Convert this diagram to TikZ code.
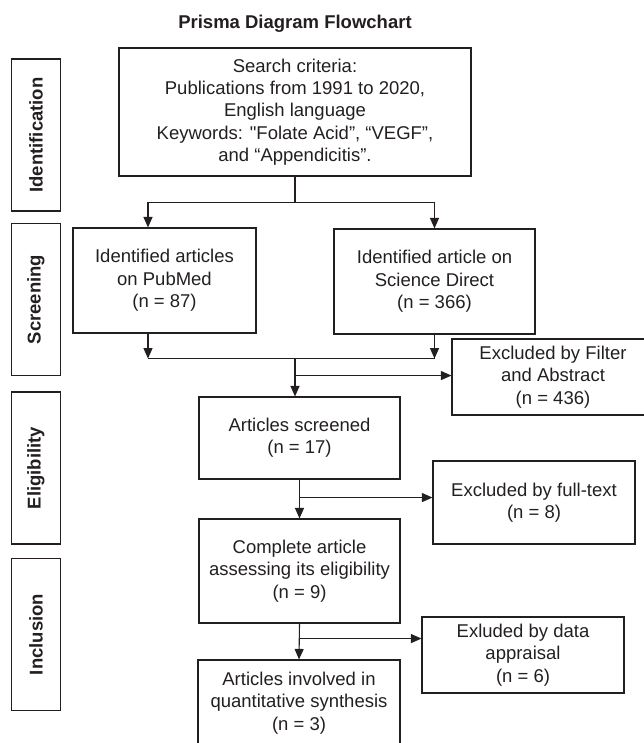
\documentclass[tikz,border=0pt]{standalone}
\usepackage{fontspec}
\setmainfont{Liberation Sans}[Ligatures=TeXOff]
\usetikzlibrary{arrows.meta}
\definecolor{ink}{RGB}{35,31,32}
\tikzset{
    box/.style={draw=ink, line width=1.1pt, align=center, inner sep=0pt, text=ink},
    phase/.style={draw=ink, line width=1.1pt, rotate=90, minimum width=152pt, minimum height=49.5pt, inner sep=0pt, font=\fontsize{18.5}{22.3}\selectfont\bfseries, text=ink},
    arr/.style={-{Triangle[length=10.5pt,width=9pt]}, draw=ink, line width=1.1pt},
    ln/.style={draw=ink, line width=1.1pt}
}
\begin{document}
\begin{tikzpicture}[x=1pt, y=-1pt, font=\fontsize{18.5}{22.3}\selectfont]
    \useasboundingbox (0,0) rectangle (643,743);
    \node[text=ink, font=\fontsize{18.5}{22.3}\selectfont\bfseries] (title) at (295,24) {Prisma Diagram Flowchart};
    \node[phase] (ident) at (36,135) {Identification};
    \node[phase] (screen) at (36,299.5) {Screening};
    \node[phase] (elig) at (36,468) {Eligibility};
    \node[phase] (incl) at (36,634.5) {Inclusion};
    \node[box, minimum width=352pt, minimum height=128pt] (search) at (295,112)
        {Search criteria:\\ Publications from 1991 to 2020,\\ English language\\ Keywords: "Folate Acid”, “VEGF”,\\ and “Appendicitis”.};
    \node[box, minimum width=183pt, minimum height=105pt] (pubmed) at (164.5,280.5)
        {Identified articles\\ on PubMed\\ (n = 87)};
    \node[box, minimum width=201pt, minimum height=105pt] (sd) at (434.5,281.5)
        {Identified article on\\ Science Direct\\ (n = 366)};
    \node[box, minimum width=202pt, minimum height=76pt] (filter) at (553,377)
        {Excluded by Filter\\ and Abstract\\ (n = 436)};
    \node[box, minimum width=201pt, minimum height=82pt] (screened) at (299.5,438)
        {Articles screened\\ (n = 17)};
    \node[box, minimum width=202pt, minimum height=83pt] (fulltext) at (534,502.5)
        {Excluded by full-text\\ (n = 8)};
    \node[box, minimum width=201pt, minimum height=104pt] (complete) at (299.5,571)
        {Complete article\\ assessing its eligibility\\ (n = 9)};
    \node[box, minimum width=202pt, minimum height=76pt] (appraisal) at (523,655)
        {Exluded by data\\ appraisal\\ (n = 6)};
    \node[box, minimum width=202pt, minimum height=86pt] (involved) at (299,703)
        {Articles involved in\\ quantitative synthesis\\ (n = 3)};
    \draw[ln] (search.south) -- ++(0,26) coordinate (split);
    \draw[arr] (split) -| ([xshift=-16.5pt]pubmed.north);
    \draw[arr] (split) -| (sd.north);
    \draw[arr] ([xshift=-16.5pt]pubmed.south) -- ++(0,25) coordinate (pj);
    \draw[arr] (sd.south) -- ++(0,24) coordinate (sj);
    \draw[ln] (pj) -- (sj);
    \draw[arr] (pj -| search.south) -- (screened.north -| search.south);
    \path (pj -| search.south) ++(0,17) coordinate (b1);
    \draw[arr] (b1) -- (b1 -| filter.west);
    \draw[arr] (screened.south) -- (complete.north);
    \path (screened.south) ++(0,18) coordinate (b2);
    \draw[arr] (b2) -- (b2 -| fulltext.west);
    \draw[arr] (complete.south) -- (involved.north);
    \path (complete.south) ++(0,15) coordinate (b3);
    \draw[arr] (b3) -- (b3 -| appraisal.west);
\end{tikzpicture}
\end{document}
